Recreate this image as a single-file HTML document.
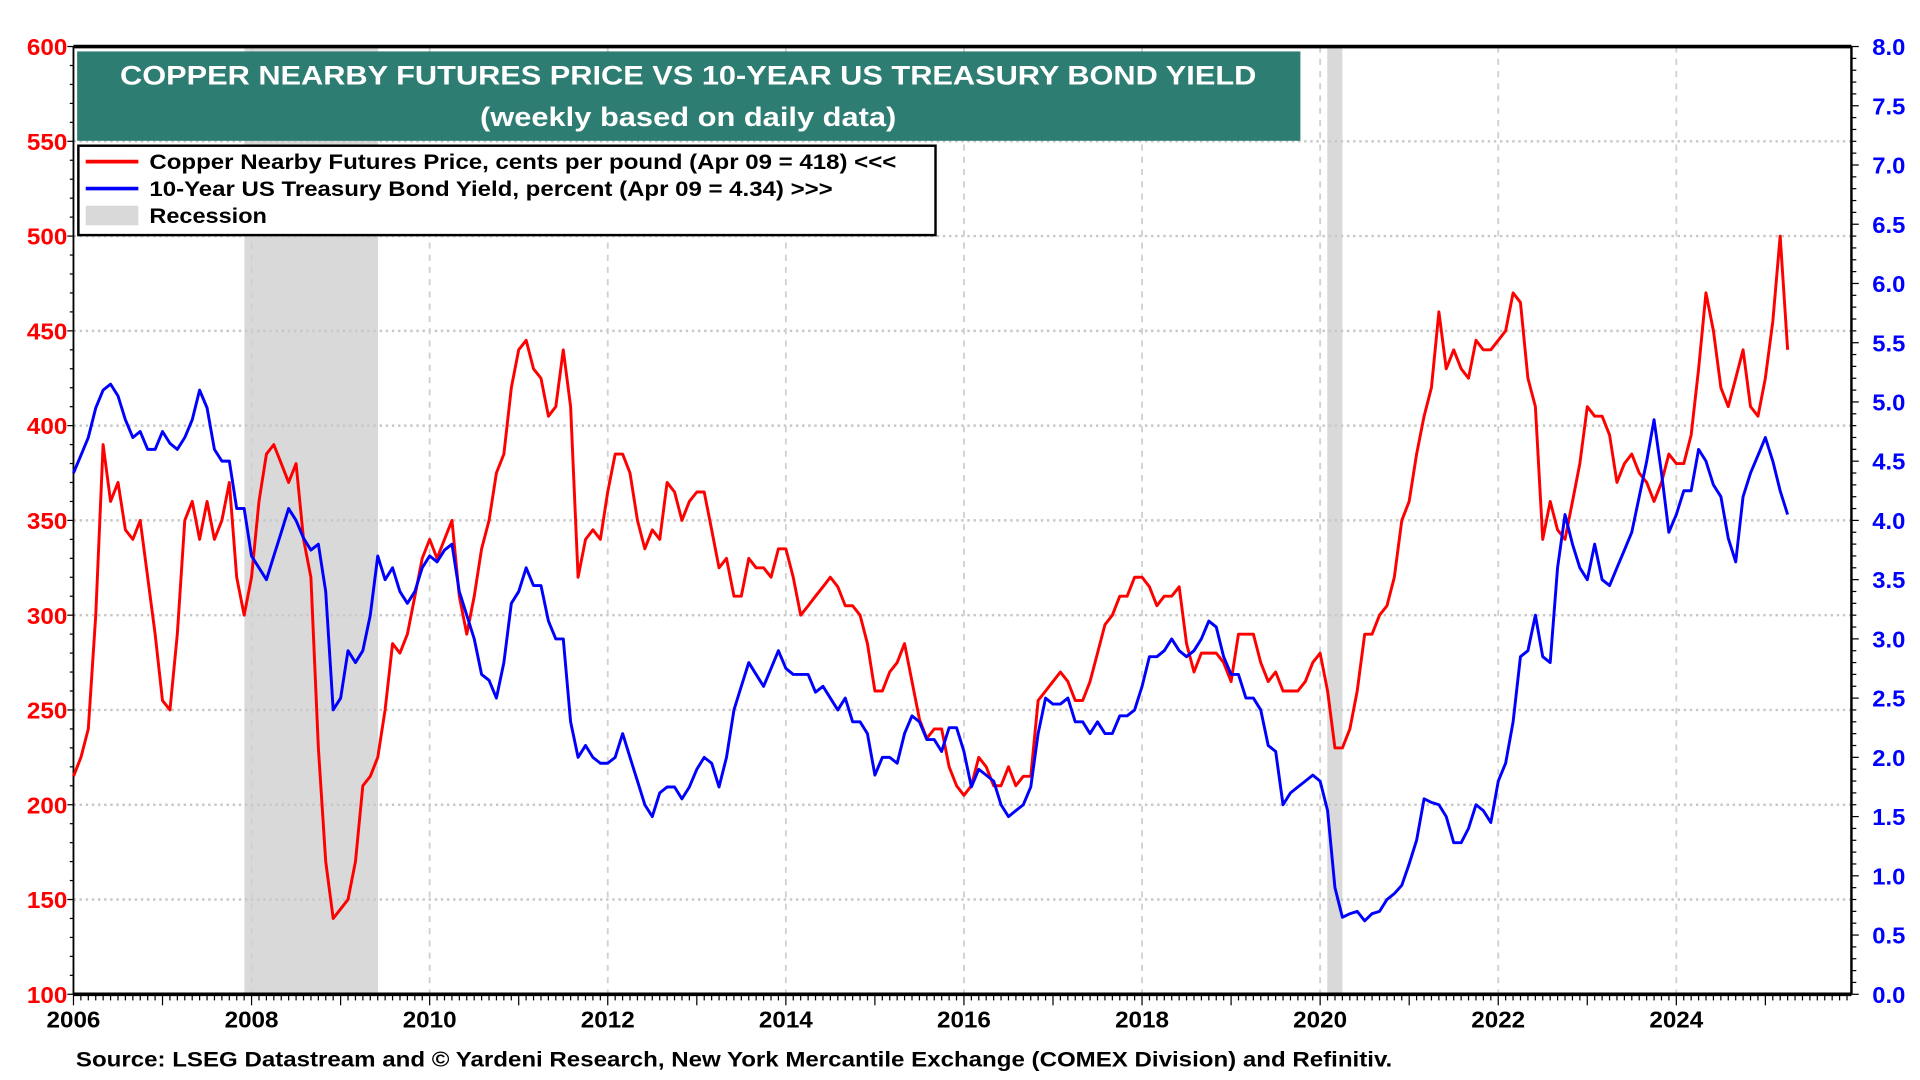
<!DOCTYPE html>
<html><head><meta charset="utf-8">
<style>
html,body{margin:0;padding:0;background:#fff;}
svg{display:block;}
text{font-family:"Liberation Sans",Arial,sans-serif;font-weight:bold;}
</style></head>
<body>
<svg id="chart" width="1920" height="1080" viewBox="0 0 1568 882" preserveAspectRatio="none" xmlns="http://www.w3.org/2000/svg">
<g id="recessions"></g>
<g id="grid"></g>
<g id="axes"></g>
<g id="series"></g>
<g>
  <rect x="63" y="42" width="999" height="73" fill="#2e7d72"/>
  <text x="562" y="69" fill="#fff" font-size="22" text-anchor="middle" textLength="928" lengthAdjust="spacingAndGlyphs">COPPER NEARBY FUTURES PRICE VS 10-YEAR US TREASURY BOND YIELD</text>
  <text x="562" y="103" fill="#fff" font-size="22" text-anchor="middle" textLength="340" lengthAdjust="spacingAndGlyphs">(weekly based on daily data)</text>
</g>
<g>
  <rect x="64" y="119" width="700" height="73" fill="#fff" stroke="#000" stroke-width="2"/>
  <g>
    <line x1="70" y1="132" x2="113" y2="132" stroke="#ff0000" stroke-width="3"/>
    <text x="122" y="138" font-size="17" textLength="610" lengthAdjust="spacingAndGlyphs">Copper Nearby Futures Price, cents per pound (Apr 09 = 418) &lt;&lt;&lt;</text>
  </g>
  <g>
    <line x1="70" y1="154" x2="113" y2="154" stroke="#0000ff" stroke-width="3"/>
    <text x="122" y="160" font-size="17" textLength="558" lengthAdjust="spacingAndGlyphs">10-Year US Treasury Bond Yield, percent (Apr 09 = 4.34) &gt;&gt;&gt;</text>
  </g>
  <g>
    <rect x="70" y="168" width="43" height="16" fill="#d9d9d9"/>
    <text x="122" y="182" font-size="17" textLength="96" lengthAdjust="spacingAndGlyphs">Recession</text>
  </g>
</g>
<text x="62" y="871" font-size="17" textLength="1075" lengthAdjust="spacingAndGlyphs">Source: LSEG Datastream and © Yardeni Research, New York Mercantile Exchange (COMEX Division) and Refinitiv.</text>
</svg>
<script>
const startYear = 2006;
const copperMonthly = [
215,225,240,300,390,360,370,345,340,350,320,290,
255,250,290,350,360,340,360,340,350,370,320,300,
320,360,385,390,380,370,380,340,320,230,170,140,
145,150,170,210,215,225,250,285,280,290,310,330,
340,330,340,350,310,290,310,335,350,375,385,420,
440,445,430,425,405,410,440,410,320,340,345,340,
365,385,385,375,350,335,345,340,370,365,350,360,
365,365,345,325,330,310,310,330,325,325,320,335,
335,320,300,305,310,315,320,315,305,305,300,285,
260,260,270,275,285,265,245,235,240,240,220,210,
205,210,225,220,210,210,220,210,215,215,255,260,
265,270,265,255,255,265,280,295,300,310,310,320,
320,315,305,310,310,315,285,270,280,280,280,275,
265,290,290,290,275,265,270,260,260,260,265,275,
280,260,230,230,240,260,290,290,300,305,320,350,
360,385,405,420,460,430,440,430,425,445,440,440,
445,450,470,465,425,410,340,360,345,340,360,380,
410,405,405,395,370,380,385,375,370,360,370,385,
380,380,395,430,470,450,420,410,425,440,410,405,
425,455,500,440
];
const yieldMonthly = [
4.4,4.55,4.7,4.95,5.1,5.15,5.05,4.85,4.7,4.75,4.6,4.6,
4.75,4.65,4.6,4.7,4.85,5.1,4.95,4.6,4.5,4.5,4.1,4.1,
3.7,3.6,3.5,3.7,3.9,4.1,4.0,3.85,3.75,3.8,3.4,2.4,
2.5,2.9,2.8,2.9,3.2,3.7,3.5,3.6,3.4,3.3,3.4,3.6,
3.7,3.65,3.75,3.8,3.4,3.2,3.0,2.7,2.65,2.5,2.8,3.3,
3.4,3.6,3.45,3.45,3.15,3.0,3.0,2.3,2.0,2.1,2.0,1.95,
1.95,2.0,2.2,2.0,1.8,1.6,1.5,1.7,1.75,1.75,1.65,1.75,
1.9,2.0,1.95,1.75,2.0,2.4,2.6,2.8,2.7,2.6,2.75,2.9,
2.75,2.7,2.7,2.7,2.55,2.6,2.5,2.4,2.5,2.3,2.3,2.2,
1.85,2.0,2.0,1.95,2.2,2.35,2.3,2.15,2.15,2.05,2.25,2.25,
2.05,1.75,1.9,1.85,1.8,1.6,1.5,1.55,1.6,1.75,2.2,2.5,
2.45,2.45,2.5,2.3,2.3,2.2,2.3,2.2,2.2,2.35,2.35,2.4,
2.6,2.85,2.85,2.9,3.0,2.9,2.85,2.9,3.0,3.15,3.1,2.85,
2.7,2.7,2.5,2.5,2.4,2.1,2.05,1.6,1.7,1.75,1.8,1.85,
1.8,1.55,0.9,0.65,0.68,0.7,0.62,0.68,0.7,0.8,0.85,0.92,
1.1,1.3,1.65,1.62,1.6,1.5,1.28,1.28,1.4,1.6,1.55,1.45,
1.8,1.95,2.3,2.85,2.9,3.2,2.85,2.8,3.6,4.05,3.8,3.6,
3.5,3.8,3.5,3.45,3.6,3.75,3.9,4.2,4.5,4.85,4.4,3.9,
4.05,4.25,4.25,4.6,4.5,4.3,4.2,3.85,3.65,4.2,4.4,4.55,
4.7,4.5,4.25,4.05
];
const recessionStarts = [2007.92, 2020.08];
const recessionEnds = [2009.42, 2020.25];
const xTickYears = [2006,2008,2010,2012,2014,2016,2018,2020,2022,2024];
const leftTicks = [100,150,200,250,300,350,400,450,500,550,600];
const rightTicks = [0,0.5,1,1.5,2,2.5,3,3.5,4,4.5,5,5.5,6,6.5,7,7.5,8];

const PL=60, PR=1512, PT=38, PB=812;
const xScale = y => PL + (y-2006)*(1369-60)/18;
const yL = v => PB - (v-100)/500*(PB-PT);
const yR = v => PB - v/8*(PB-PT);
const NS='http://www.w3.org/2000/svg';
function mk(tag, attrs, parent){const e=document.createElementNS(NS,tag);for(const k in attrs)e.setAttribute(k,attrs[k]);parent.appendChild(e);return e;}

const gRec=document.getElementById('recessions');
recessionStarts.forEach((s,i)=>{
  const r=mk('rect',{x:xScale(s),y:PT,width:xScale(recessionEnds[i])-xScale(s),height:PB-PT,fill:'#d9d9d9'},gRec);
  
  
});

const gGrid=document.getElementById('grid');
leftTicks.forEach(v=>{ if(v>100&&v<600){
  const l=mk('line',{x1:PL,x2:PR,y1:yL(v),y2:yL(v),stroke:'#c8c8c8','stroke-width':2,'stroke-dasharray':'2,3'},gGrid);
  
  
}});
xTickYears.forEach(yv=>{ if(yv>2006){
  const l=mk('line',{x1:xScale(yv),x2:xScale(yv),y1:PT,y2:PB,stroke:'#d0d0d0','stroke-width':1.5,'stroke-dasharray':'5,5'},gGrid);
  
  
}});

const gAx=document.getElementById('axes');
mk('line',{x1:PL,x2:PR,y1:PT,y2:PT,stroke:'#000','stroke-width':3},gAx);
mk('line',{x1:PL,x2:PR,y1:PB,y2:PB,stroke:'#000','stroke-width':3},gAx);
mk('line',{x1:PL,x2:PL,y1:PT,y2:PB,stroke:'#000','stroke-width':1.5},gAx);
mk('line',{x1:PR,x2:PR,y1:PT,y2:PB,stroke:'#000','stroke-width':2},gAx);
for(let v=100;v<=600;v+=10){mk('line',{x1:PL-(v%50===0?5:3),x2:PL,y1:yL(v),y2:yL(v),stroke:'#000','stroke-width':1},gAx);}
for(let v=0;v<=8.001;v+=0.1){mk('line',{x1:PR,x2:PR+(Math.abs(v*2-Math.round(v*2))<0.01?6:4),y1:yR(v),y2:yR(v),stroke:'#000','stroke-width':1},gAx);}
for(let m=0;m<=20*12;m++){const x=xScale(2006+m/12);if(x>PR)break;mk('line',{x1:x,x2:x,y1:PB,y2:PB+(m%12===0?9:5),stroke:'#000','stroke-width':1},gAx);}
leftTicks.forEach(v=>{
  const t=mk('text',{x:PL-5,y:yL(v)+7,'font-size':19,fill:'#ff0000','text-anchor':'end','textLength':33,'lengthAdjust':'spacingAndGlyphs'},gAx);
  t.textContent=v;
  
  
});
rightTicks.forEach(v=>{
  const t=mk('text',{x:PR+17,y:yR(v)+7,'font-size':19,fill:'#0000ff','textLength':27,'lengthAdjust':'spacingAndGlyphs'},gAx);
  t.textContent=v.toFixed(1);
  
  
});
xTickYears.forEach(yv=>{
  const t=mk('text',{x:xScale(yv),y:839,'font-size':19,fill:'#000','text-anchor':'middle','textLength':44,'lengthAdjust':'spacingAndGlyphs'},gAx);
  t.textContent=yv;
  
  
});

const gS=document.getElementById('series');
function pathOf(arr,ys){return arr.map((v,i)=>(i?'L':'M')+xScale(startYear+i/12).toFixed(1)+','+ys(v).toFixed(1)).join('');}
const pc=mk('path',{d:pathOf(copperMonthly,yL),fill:'none',stroke:'#ff0000','stroke-width':2.4,'stroke-linejoin':'round'},gS);


const py=mk('path',{d:pathOf(yieldMonthly,yR),fill:'none',stroke:'#0000ff','stroke-width':2.4,'stroke-linejoin':'round'},gS);


</script>
</body></html>
